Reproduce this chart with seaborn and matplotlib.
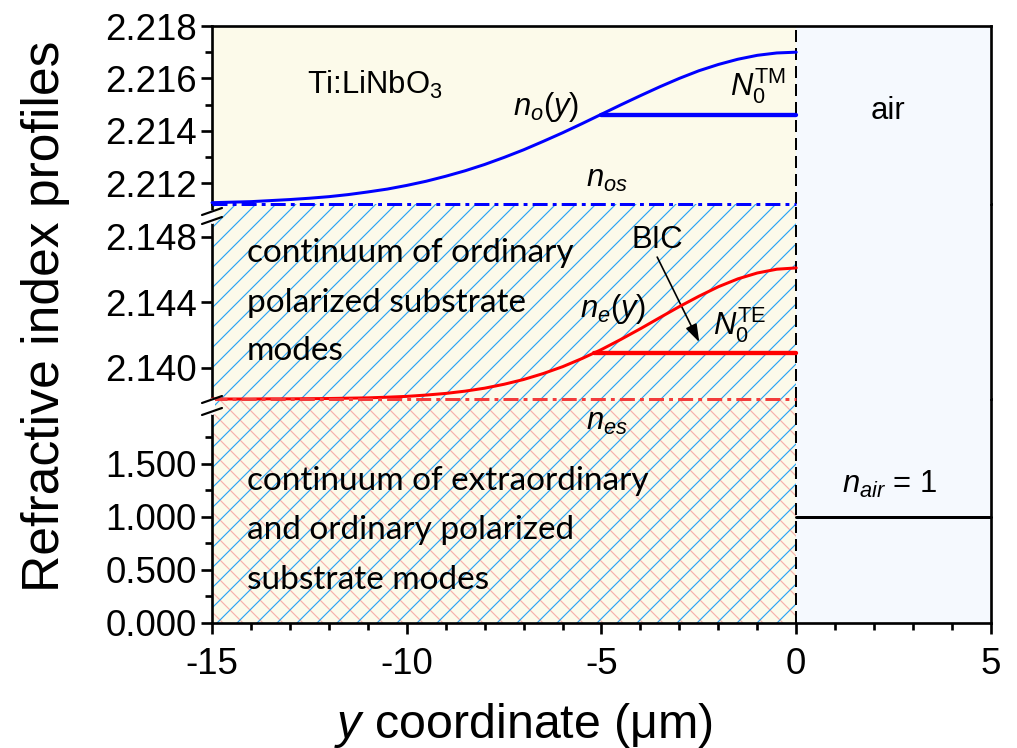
import matplotlib
matplotlib.use("Agg")
import matplotlib.pyplot as plt
import seaborn as sns
import pandas as pd
from matplotlib.lines import Line2D
from matplotlib.ticker import FixedLocator, FormatStrFormatter

# ---------------------------------------------------------------------------
# Index profiles of a Ti-diffused LiNbO3 waveguide (surface at y = 0)
# ---------------------------------------------------------------------------
depth = [-15.0, -14.5, -14.0, -13.5, -13.0, -12.5, -12.0, -11.5, -11.0, -10.5,
         -10.0, -9.5, -9.0, -8.5, -8.0, -7.5, -7.0, -6.5, -6.0, -5.5,
         -5.0, -4.5, -4.0, -3.5, -3.0, -2.5, -2.0, -1.5, -1.0, -0.5, 0.0]

# ordinary index n_o(y)
n_o = [2.21125, 2.21127, 2.21129, 2.21133, 2.21137, 2.21142, 2.21148, 2.21156,
       2.21166, 2.21177, 2.21191, 2.21207, 2.21226, 2.21247, 2.21271, 2.21298,
       2.21327, 2.21359, 2.21392, 2.21427, 2.21463, 2.21499, 2.21534, 2.21568,
       2.21600, 2.21629, 2.21653, 2.21673, 2.21688, 2.21697, 2.21700]

# extraordinary index n_e(y)
n_e = [2.13810, 2.13810, 2.13810, 2.13811, 2.13811, 2.13812, 2.13813, 2.13815,
       2.13817, 2.13821, 2.13826, 2.13834, 2.13844, 2.13858, 2.13876, 2.13900,
       2.13929, 2.13965, 2.14007, 2.14057, 2.14112, 2.14174, 2.14239, 2.14307,
       2.14374, 2.14437, 2.14495, 2.14543, 2.14579, 2.14602, 2.14610]

n_os = 2.2112          # ordinary substrate index
n_es = 2.1381          # extraordinary substrate index
N0_TM = 2.2146         # effective index of the TM0 mode
N0_TE = 2.1409         # effective index of the TE0 mode (BIC)
tm_turning_point = -5.0
te_turning_point = -5.2
n_air = 1.0
x_min, x_surface, x_max = -15.0, 0.0, 5.0

top_ticks = [2.212, 2.214, 2.216, 2.218]
top_minor = [2.213, 2.215, 2.217]
mid_ticks = [2.140, 2.144, 2.148]
bot_ticks = [0.0, 0.5, 1.0, 1.5]
bot_minor = [0.25, 0.75, 1.25, 1.75]
x_ticks = [-15, -10, -5, 0, 5]

profiles = pd.DataFrame({"y": depth, "n_o": n_o, "n_e": n_e})

# ---------------------------------------------------------------------------
sns.set_style("ticks")
plt.rcParams.update({
    "font.family": ["Liberation Sans", "DejaVu Sans"],
    "mathtext.fontset": "custom",
    "mathtext.rm": "Liberation Sans",
    "mathtext.it": "Liberation Sans:italic",
    "mathtext.bf": "Liberation Sans:bold",
    "axes.unicode_minus": False,
    "hatch.linewidth": 0.7,
    "axes.linewidth": 1.6,
    "axes.edgecolor": "black",
    "text.color": "black",
    "axes.labelcolor": "black",
    "xtick.color": "black",
    "ytick.color": "black",
})

DPI = 120
W, H = 1017, 748
fig = plt.figure(figsize=(W / DPI, H / DPI), dpi=DPI)

LEFT, RIGHT = 212, 991


def add_panel(top_px, bottom_px):
    return fig.add_axes([LEFT / W, 1 - bottom_px / H,
                         (RIGHT - LEFT) / W, (bottom_px - top_px) / H])


ax_top = add_panel(26, 204)
ax_mid = add_panel(204, 399)
ax_bot = add_panel(399, 623)
axes = [ax_top, ax_mid, ax_bot]
# upper panels are drawn last so that boundary lines are not hidden
for z, ax in zip((3, 2, 1), axes):
    ax.set_zorder(z)
    ax.patch.set_visible(False)

CREAM = "#FCFAEA"
AIR = "#F5F9FE"
HATCH_BLUE = "#2AA4F4"
HATCH_PINK = "#F6B0AC"
BLUE = "#0000FF"
RED = "#FF0000"
RED_DASH = "#F23C3C"
DASHDOT = (0, (5, 1.7, 1.3, 1.7))

ax_top.set_ylim(2.2112, 2.2180)
ax_mid.set_ylim(2.1381, 2.1500)
ax_bot.set_ylim(0.0, 2.107)

for ax in axes:
    ax.set_xlim(x_min, x_max)
    ax.axvspan(x_min, x_surface, color=CREAM, lw=0, zorder=0)
    ax.axvspan(x_surface, x_max, color=AIR, lw=0, zorder=0)

# continua of substrate modes
ax_bot.axvspan(x_min, x_surface, facecolor="none", edgecolor=HATCH_PINK,
               hatch="\\\\", lw=0, zorder=0.4)
for ax in (ax_mid, ax_bot):
    ax.axvspan(x_min, x_surface, facecolor="none", edgecolor=HATCH_BLUE,
               hatch="//", lw=0, zorder=0.5)

for ax in axes:
    ax.axvline(x_surface, color="black", lw=1.2, ls=(0, (6, 3)), zorder=3)


def styled(ax, color, lw, ls="-"):
    """Apply colour / width / dash pattern to the most recent line."""
    ln = ax.lines[-1]
    ln.set_color(color)
    ln.set_linewidth(lw)
    ln.set_linestyle(ls)
    ln.set_zorder(4)
    ln.set_clip_on(False)


# --- ordinary profile -------------------------------------------------------
sns.lineplot(data=profiles, x="y", y="n_o", ax=ax_top)
styled(ax_top, BLUE, 1.8)
sns.lineplot(x=[tm_turning_point, x_surface], y=[N0_TM, N0_TM], ax=ax_top)
styled(ax_top, BLUE, 2.6)
sns.lineplot(x=[x_min, x_surface], y=[n_os, n_os], ax=ax_top)
styled(ax_top, BLUE, 1.8, DASHDOT)

# --- extraordinary profile --------------------------------------------------
sns.lineplot(data=profiles, x="y", y="n_e", ax=ax_mid)
styled(ax_mid, RED, 1.8)
sns.lineplot(x=[te_turning_point, x_surface], y=[N0_TE, N0_TE], ax=ax_mid)
styled(ax_mid, RED, 2.6)
sns.lineplot(x=[x_min, x_surface], y=[n_es, n_es], ax=ax_mid)
styled(ax_mid, RED_DASH, 1.8, DASHDOT)

# --- air --------------------------------------------------------------------
sns.lineplot(x=[x_surface, x_max], y=[n_air, n_air], ax=ax_bot)
styled(ax_bot, "black", 1.8)

for ax in axes:
    ax.set_xlabel("")
    ax.set_ylabel("")

# --- spines and ticks -------------------------------------------------------
ax_top.spines["bottom"].set_visible(False)
ax_mid.spines["top"].set_visible(False)
ax_mid.spines["bottom"].set_visible(False)
ax_bot.spines["top"].set_visible(False)

TICK_FS = 22
for ax in axes:
    ax.tick_params(axis="both", which="major", direction="out", length=6.6,
                   width=1.6, labelsize=TICK_FS, pad=2.5, right=False, top=False,
                   colors="black")
    ax.tick_params(axis="both", which="minor", direction="out", length=4.0,
                   width=1.6, right=False, top=False, colors="black")
for ax in (ax_top, ax_mid):
    ax.tick_params(axis="x", which="both", bottom=False, labelbottom=False)

ax_top.yaxis.set_major_locator(FixedLocator(top_ticks))
ax_top.yaxis.set_minor_locator(FixedLocator(top_minor))
ax_mid.yaxis.set_major_locator(FixedLocator(mid_ticks))
ax_mid.yaxis.set_minor_locator(FixedLocator([]))
ax_bot.yaxis.set_major_locator(FixedLocator(bot_ticks))
ax_bot.yaxis.set_minor_locator(FixedLocator(bot_minor))
for ax in axes:
    ax.yaxis.set_major_formatter(FormatStrFormatter("%.3f"))
ax_bot.xaxis.set_major_locator(FixedLocator(x_ticks))
ax_bot.xaxis.set_minor_locator(FixedLocator(range(-14, 5)))
ax_bot.xaxis.set_major_formatter(FormatStrFormatter("%d"))
ax_bot.tick_params(axis="x", which="major", pad=8)

# --- axis break marks on the left spine -------------------------------------
def px(x, y):
    return x / W, 1 - y / H


for y_a, y_b in ((211.5, 220.5), (399.5, 411.5)):
    gx, gy0 = px(LEFT, y_a)
    _, gy1 = px(LEFT, y_b)
    fig.add_artist(Line2D([gx, gx], [gy0, gy1], color="white", lw=3.0,
                          transform=fig.transFigure, zorder=10))
    for yc in (y_a, y_b):
        x0, y0 = px(LEFT - 10, yc + 3.5)
        x1, y1 = px(LEFT + 10, yc - 3.5)
        fig.add_artist(Line2D([x0, x1], [y0, y1], color="black", lw=1.3,
                              transform=fig.transFigure, zorder=11))

# --- annotations ------------------------------------------------------------
TXT = 18.6
ax_top.text(-10.82, 2.21540, r"Ti:LiNbO$_3$", fontsize=TXT, ha="center",
            va="baseline")
ax_top.text(-6.42, 2.21460, r"$n_o(y)$", fontsize=TXT, ha="center",
            va="baseline")
ax_top.text(-0.99, 2.21536, r"$N_0^{\mathrm{TM}}$", fontsize=TXT, ha="center",
            va="baseline")
ax_top.text(-4.86, 2.21186, r"$n_{os}$", fontsize=TXT, ha="center",
            va="baseline")
ax_top.text(2.36, 2.21444, "air", fontsize=TXT, ha="center", va="baseline")

ax_mid.text(-3.57, 2.14729, "BIC", fontsize=TXT, ha="center", va="baseline")
ax_mid.annotate("", xy=(-2.49, 2.14157), xytext=(-3.57, 2.14676),
                arrowprops=dict(arrowstyle="-|>,head_length=0.45,head_width=0.15",
                                color="black", lw=1.0, mutation_scale=20,
                                shrinkA=0, shrinkB=0))
ax_mid.text(-4.69, 2.14311, r"$n_e(y)$", fontsize=TXT, ha="center",
            va="baseline")
ax_mid.text(-1.46, 2.14204, r"$N_0^{\mathrm{TE}}$", fontsize=TXT, ha="center",
            va="baseline")

ax_bot.text(-4.86, 1.816, r"$n_{es}$", fontsize=TXT, ha="center",
            va="baseline")
ax_bot.text(2.41, 1.220, r"$n_{air}$ = 1", fontsize=TXT, ha="center",
            va="baseline")

BLOCK_FS = 20
for line, yb in zip(["continuum of ordinary", "polarized substrate", "modes"],
                    [2.14647, 2.14342, 2.14047]):
    ax_mid.text(-14.11, yb, line, fontsize=BLOCK_FS, family="Lato",
                ha="left", va="baseline")
for line, yb in zip(["continuum of extraordinary", "and ordinary polarized",
                     "substrate modes"], [1.251, 0.787, 0.317]):
    ax_bot.text(-14.11, yb, line, fontsize=BLOCK_FS, family="Lato",
                ha="left", va="baseline")

# --- axis titles ------------------------------------------------------------
fig.text(*px(46, 316), "Refractive index profiles", rotation=90, fontsize=31,
         ha="center", va="center")
fig.text(*px(524, 738), r"$y$ coordinate (μm)", fontsize=29, ha="center",
         va="baseline")

fig.savefig("out.png", dpi=DPI)
